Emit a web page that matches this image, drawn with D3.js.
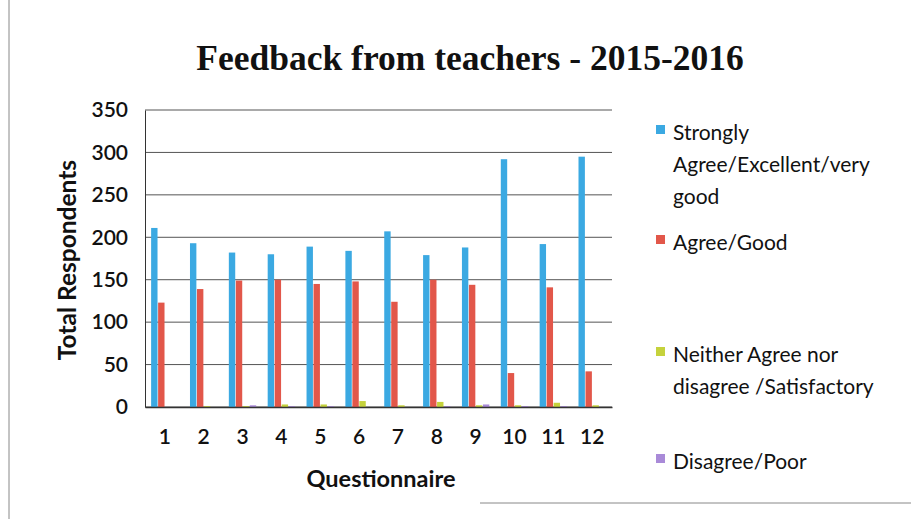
<!DOCTYPE html>
<html>
<head>
<meta charset="utf-8">
<script src="https://cdn.jsdelivr.net/npm/d3@7"></script>
<style>
body { margin: 0; background: #fff; }
svg { display: block; }
</style>
</head>
<body>
<svg width="911" height="519"></svg>
<script>
var questions = ["1", "2", "3", "4", "5", "6", "7", "8", "9", "10", "11", "12"];
var seriesNames = ["Strongly Agree/Excellent/very good", "Agree/Good",
    "Neither Agree nor disagree /Satisfactory", "Disagree/Poor"];
var stronglyAgree = [211, 193, 182, 180, 189, 184, 207, 179, 188, 292, 192, 295];
var agree = [123, 139, 149, 150, 145, 148, 124, 150, 144, 40, 141, 42];
var neither = [0, 1, 1, 3, 3, 7, 2, 6, 2, 2, 5, 2];
var disagree = [0, 0, 2, 1, 1, 0, 0, 1, 3, 1, 1, 0];
var yTicks = [0, 50, 100, 150, 200, 250, 300, 350];
var colors = ["#3ba9e2", "#e2574a", "#c5d23c", "#a98ad8"];

var svg = d3.select("svg");
var font = "Lato, 'Open Sans', sans-serif";

// frame of the scanned page
svg.append("line").attr("x1", 9).attr("y1", 0).attr("x2", 9).attr("y2", 519)
    .attr("stroke", "#888").attr("stroke-width", 1);
svg.append("line").attr("x1", 480).attr("y1", 503).attr("x2", 911).attr("y2", 503)
    .attr("stroke", "#888").attr("stroke-width", 1);

var m = {left: 145, right: 612, top: 110, bottom: 407};

var x = d3.scaleBand().domain(questions).range([m.left, m.right]).paddingInner(0.28).paddingOuter(0.15);
var x1 = d3.scaleBand().domain(d3.range(4)).range([0, x.bandwidth()]);
var y = d3.scaleLinear().domain([0, 350]).range([m.bottom, m.top]);

// gridlines
svg.append("g").selectAll("line").data(yTicks).join("line")
    .attr("x1", m.left).attr("x2", m.right)
    .attr("y1", d => y(d)).attr("y2", d => y(d))
    .attr("stroke", "#555").attr("stroke-width", 1);

// y axis
var yAxis = svg.append("g").attr("transform", "translate(" + m.left + ",0)")
    .call(d3.axisLeft(y).tickValues(yTicks).tickSize(0).tickPadding(17));
yAxis.select(".domain").attr("stroke", "#333");
yAxis.selectAll("text").attr("font-family", font).attr("font-size", 21)
    .attr("font-weight", 600).attr("fill", "#111");

// bars
var allSeries = [stronglyAgree, agree, neither, disagree];
var groups = svg.append("g").selectAll("g").data(questions).join("g")
    .attr("transform", d => "translate(" + x(d) + ",0)");
groups.selectAll("rect").data((d, i) => allSeries.map((s, k) => ({k: k, v: s[i]}))).join("rect")
    .attr("x", d => x1(d.k) + 0.3)
    .attr("width", x1.bandwidth() - 0.6)
    .attr("y", d => y(d.v))
    .attr("height", d => y(0) - y(d.v))
    .attr("fill", d => colors[d.k]);

// x axis
var xAxis = svg.append("g").attr("transform", "translate(0," + m.bottom + ")")
    .call(d3.axisBottom(x).tickSize(0).tickPadding(22));
xAxis.select(".domain").attr("stroke", "#333").attr("stroke-width", 1.5);
xAxis.selectAll("text").attr("font-family", font).attr("font-size", 21)
    .attr("font-weight", 600).attr("fill", "#111");

// titles
svg.append("text").attr("x", 470).attr("y", 70).attr("text-anchor", "middle")
    .attr("font-family", "'Liberation Serif', 'Times New Roman', serif")
    .attr("font-weight", "bold").attr("font-size", 35.5).attr("fill", "#111")
    .text("Feedback from teachers - 2015-2016");
svg.append("text").attr("x", 381).attr("y", 487).attr("text-anchor", "middle")
    .attr("font-family", font).attr("font-weight", "bold").attr("font-size", 23.5).attr("fill", "#111")
    .text("Questionnaire");
svg.append("text").attr("transform", "translate(76,260) rotate(-90)").attr("text-anchor", "middle")
    .attr("font-family", font).attr("font-weight", "bold").attr("font-size", 24.5).attr("fill", "#111")
    .text("Total Respondents");

// legend
var legendLines = [["Strongly", "Agree/Excellent/very", "good"], ["Agree/Good"],
    ["Neither Agree nor", "disagree /Satisfactory"], ["Disagree/Poor"]];
var legendY = [133, 243, 355, 462];
var lg = svg.append("g").selectAll("g").data(legendLines).join("g")
    .attr("transform", (d, i) => "translate(656," + legendY[i] + ")");
lg.append("rect").attr("x", 0).attr("y", -8).attr("width", 9).attr("height", 9)
    .attr("fill", (d, i) => colors[i]);
lg.append("text").attr("font-family", font).attr("font-size", 21).attr("fill", "#111")
    .selectAll("tspan").data(d => d).join("tspan")
    .attr("x", 17).attr("y", (d, i) => i * 32 + 7)
    .text(d => d);
</script>
</body>
</html>
